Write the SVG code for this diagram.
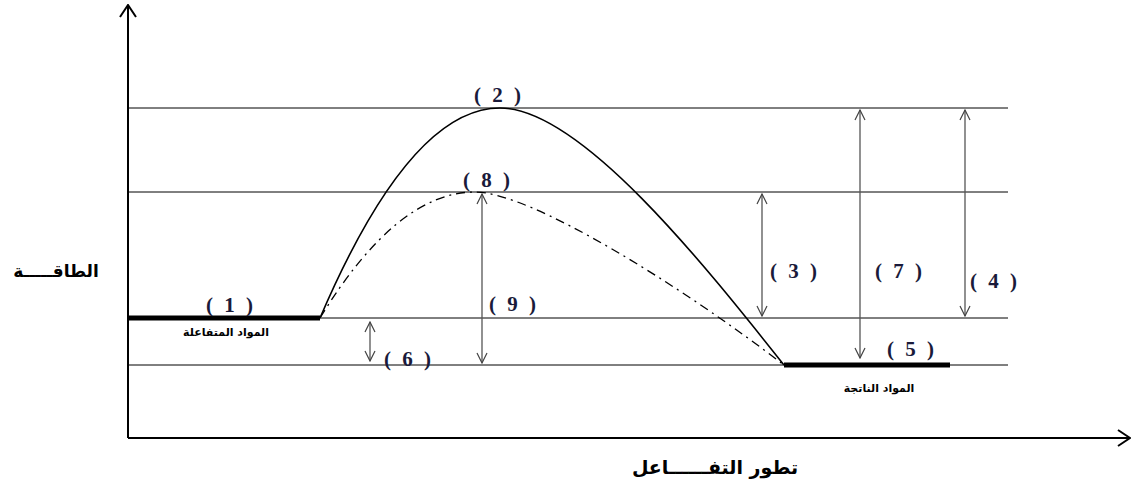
<svg xmlns="http://www.w3.org/2000/svg" width="1133" height="483" viewBox="0 0 1133 483">
<defs>
<marker id="v" viewBox="0 0 12 12" refX="11" refY="6" markerWidth="12" markerHeight="12" markerUnits="userSpaceOnUse" orient="auto-start-reverse">
<path d="M1,1 L11,6 L1,11" fill="none" stroke="#444" stroke-width="1.2"/>
</marker>
<marker id="ax" viewBox="0 0 18 18" refX="17" refY="9" markerWidth="18" markerHeight="18" markerUnits="userSpaceOnUse" orient="auto">
<path d="M5,1 L17,9 L5,17" fill="none" stroke="#000" stroke-width="2"/>
</marker>
</defs>
<style>
.grid{stroke:#000;stroke-width:1;fill:none}
.thick{stroke:#000;stroke-width:5;fill:none}
.dim{stroke:#555;stroke-width:1.3;fill:none;marker-start:url(#v);marker-end:url(#v)}
.num{font-family:"Liberation Serif",serif;font-weight:bold;font-size:21px;letter-spacing:3px;fill:#1a1a3a;text-anchor:middle}
.ar{font-family:"DejaVu Sans",sans-serif;font-weight:bold;fill:#000;text-anchor:middle}
</style>
<rect width="1133" height="483" fill="#fff"/>
<g id="axes">
<line x1="128" y1="438" x2="128" y2="5" stroke="#000" stroke-width="2" marker-end="url(#ax)"/>
<line x1="128" y1="438" x2="1130" y2="438" stroke="#000" stroke-width="2" marker-end="url(#ax)"/>
</g>
<g id="levels">
<line class="grid" x1="128" y1="108" x2="1008" y2="108"/>
<line class="grid" x1="128" y1="192" x2="1008" y2="192"/>
<line class="grid" x1="128" y1="318" x2="1008" y2="318"/>
<line class="grid" x1="128" y1="365" x2="1008" y2="365"/>
</g>
<g id="reactants">
<line class="thick" x1="128" y1="318" x2="320" y2="318"/>
<text class="num" x="231" y="312">( 1 )</text>
<text class="ar" x="226" y="336" font-size="11">المواد المتفاعلة</text>
</g>
<g id="products">
<line class="thick" x1="784" y1="365" x2="950" y2="365"/>
<text class="num" x="912" y="356">( 5 )</text>
<text class="ar" x="879" y="392" font-size="11">المواد الناتجة</text>
</g>
<g id="curves">
<path d="M320,318 Q410,108 500,108 C580,108 703,263 784,365" stroke="#000" stroke-width="1.6" fill="none"/>
<path d="M320,318 Q397,192 475,192 C530,192 680,285 784,365" stroke="#000" stroke-width="1.3" fill="none" stroke-dasharray="9,5,2,5"/>
</g>
<g id="connectors">
<line class="dim" x1="370" y1="322" x2="370" y2="361"/>
<line class="dim" x1="482" y1="194" x2="482" y2="363"/>
<line class="dim" x1="762" y1="194" x2="762" y2="316"/>
<line class="dim" x1="860" y1="110" x2="860" y2="358"/>
<line class="dim" x1="965" y1="110" x2="965" y2="316"/>
</g>
<g id="labels">
<text class="num" x="499" y="102">( 2 )</text>
<text class="num" x="488" y="187">( 8 )</text>
<text class="num" x="514" y="311">( 9 )</text>
<text class="num" x="795" y="278">( 3 )</text>
<text class="num" x="900" y="278">( 7 )</text>
<text class="num" x="995" y="288">( 4 )</text>
<text class="num" x="409" y="366">( 6 )</text>
<text class="ar" x="56" y="277" font-size="17">الطاقـــــة</text>
<text class="ar" x="715" y="474" font-size="19">تطور التفــــــاعل</text>
</g>
</svg>
